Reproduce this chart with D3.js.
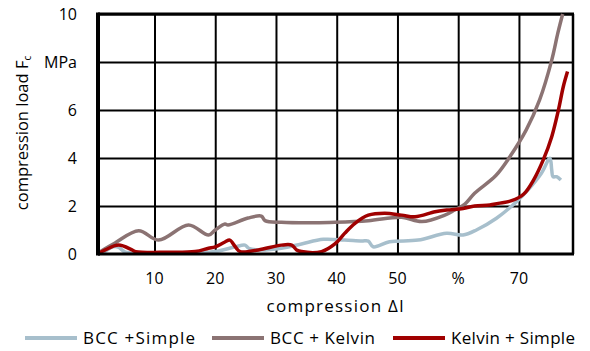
<!DOCTYPE html>
<html>
<head>
<meta charset="utf-8">
<script src="https://cdn.jsdelivr.net/npm/d3@7"></script>
<style>
  body { margin: 0; background: #fff; }
  svg { display: block; font-family: "Open Sans", "Liberation Sans", sans-serif; }
</style>
</head>
<body>
<svg id="chart" width="590" height="351"></svg>
<script>
// compression [%], load [MPa]
var bccSimple = [
  [0.7, 0], [1.9, 0.12], [3.0, 0.29], [4.0, 0.29], [5.2, 0.08], [7.6, 0.04],
  [12, 0.04], [17, 0.05], [20.0, 0.1], [23.3, 0.3], [24.9, 0.37], [25.5, 0.24],
  [27.1, 0.17], [30.9, 0.24], [34.2, 0.42], [37.8, 0.61], [41.3, 0.58],
  [44.1, 0.54], [45.2, 0.54], [46.0, 0.3], [48.7, 0.51], [53.4, 0.58],
  [58.1, 0.86], [60.8, 0.79], [63.0, 1.0], [66.3, 1.49], [69.6, 2.18],
  [71.5, 2.67], [73.7, 3.36], [75.1, 3.99], [75.4, 3.5], [75.6, 3.22],
  [76.2, 3.22], [76.9, 3.08]
];

var bccKelvin = [
  [0.7, 0], [1.1, 0.1], [3.5, 0.46], [7.4, 0.97], [10.7, 0.58], [15.6, 1.21],
  [18.9, 0.79], [20.0, 1.0], [21.6, 1.25], [22.1, 1.21], [25.4, 1.5],
  [27.6, 1.58], [28.2, 1.39], [30.9, 1.32], [36.4, 1.3], [39.7, 1.32],
  [45.2, 1.39], [50.7, 1.53], [54.0, 1.35], [57.8, 1.62], [59.4, 1.83],
  [61.1, 2.08], [62.7, 2.53], [66.2, 3.27], [68.5, 4.05], [71.2, 5.17],
  [73.4, 6.42], [75.4, 8.08], [76.4, 9.2], [77.2, 10.0]
];

var kelvinSimple = [
  [0.7, 0], [1.9, 0.17], [4.1, 0.37], [6.3, 0.17], [6.9, 0.1], [12, 0.07],
  [16.7, 0.1], [18.9, 0.24], [20.0, 0.3], [21.6, 0.5], [22.4, 0.58],
  [23.3, 0.3], [24.1, 0.1], [27.1, 0.17], [30.9, 0.37], [32.6, 0.37],
  [33.4, 0.17], [34.2, 0.1], [37.5, 0.1], [39.7, 0.42], [41.3, 0.86],
  [43.0, 1.28], [45.2, 1.62], [47.9, 1.7], [50.7, 1.62], [52.9, 1.55],
  [56.2, 1.76], [58.1, 1.83], [60.8, 1.9], [62.7, 2.0], [65.2, 2.04],
  [66.6, 2.11], [68.8, 2.22], [70.8, 2.5], [72.4, 3.08], [74.0, 3.92],
  [75.4, 4.89], [76.5, 6.0], [77.3, 6.97], [78.0, 7.6]
];

var seriesNames = ["BCC +Simple", "BCC + Kelvin", "Kelvin + Simple"];
var seriesColors = ["#a7bfcc", "#8b7373", "#a00000"];

var xTicks = [10, 20, 30, 40, 50, 60, 70];
var xTickLabels = ["10", "20", "30", "40", "50", "%", "70"];
var yTicks = [0, 2, 4, 6, 8, 10];
var yTickLabels = ["0", "2", "4", "6", "MPa", "10"];

(function() {
  var svg = d3.select("#chart");
  var pl = 98, pr = 573, pt = 14, pb = 254;

  var x = d3.scaleLinear().domain([0.7, 78.9]).range([pl, pr]);
  var y = d3.scaleLinear().domain([0, 10]).range([pb, pt]);

  // grid
  svg.append("g")
    .attr("transform", "translate(0," + pb + ")")
    .call(d3.axisBottom(x).tickValues(xTicks).tickSize(-(pb - pt)).tickFormat(""))
    .call(function(g) { g.select(".domain").remove(); })
    .selectAll("line").attr("stroke", "#000").attr("stroke-width", 2);

  svg.append("g")
    .attr("transform", "translate(" + pl + ",0)")
    .call(d3.axisLeft(y).tickValues(yTicks.slice(1)).tickSize(-(pr - pl)).tickFormat(""))
    .call(function(g) { g.select(".domain").remove(); })
    .selectAll("line").attr("stroke", "#000").attr("stroke-width", 2);

  // plot border
  svg.append("line").attr("x1", pl).attr("x2", pr + 1).attr("y1", pt).attr("y2", pt)
    .attr("stroke", "#000").attr("stroke-width", 3);
  svg.append("line").attr("x1", pr).attr("x2", pr).attr("y1", pt).attr("y2", pb)
    .attr("stroke", "#000").attr("stroke-width", 2.5);

  // series
  var line = d3.line()
    .x(function(d) { return x(d[0]); })
    .y(function(d) { return y(d[1]); })
    .curve(d3.curveCatmullRom.alpha(0.5));

  [bccSimple, bccKelvin, kelvinSimple].forEach(function(s, i) {
    svg.append("path")
      .datum(s)
      .attr("d", line)
      .attr("fill", "none")
      .attr("stroke", seriesColors[i])
      .attr("stroke-width", 3.5)
      .attr("stroke-linejoin", "round");
  });

  // axes lines
  svg.append("line").attr("x1", pl).attr("x2", pl).attr("y1", pt - 1.5).attr("y2", pb + 1.5)
    .attr("stroke", "#000").attr("stroke-width", 4);
  svg.append("line").attr("x1", pl).attr("x2", pr + 1).attr("y1", pb).attr("y2", pb)
    .attr("stroke", "#000").attr("stroke-width", 3);

  // tick labels
  svg.append("g").selectAll("text")
    .data(xTicks)
    .enter().append("text")
    .attr("x", function(d) { return x(d); })
    .attr("y", 278)
    .attr("dy", "0.35em")
    .attr("text-anchor", "middle")
    .attr("font-size", 16)
    .attr("fill", "#000")
    .text(function(d, i) { return xTickLabels[i]; });

  svg.append("g").selectAll("text")
    .data(yTicks)
    .enter().append("text")
    .attr("x", 77)
    .attr("y", function(d) { return y(d); })
    .attr("dy", "0.35em")
    .attr("text-anchor", "end")
    .attr("font-size", 16)
    .attr("fill", "#000")
    .text(function(d, i) { return yTickLabels[i]; });

  // axis titles
  svg.append("text")
    .attr("x", 335)
    .attr("y", 306)
    .attr("dy", "0.35em")
    .attr("text-anchor", "middle")
    .attr("font-size", 17)
    .attr("textLength", 137)
    .attr("lengthAdjust", "spacing")
    .text("compression \u0394l");

  var yt = svg.append("text")
    .attr("transform", "translate(28,133) rotate(-90)")
    .attr("text-anchor", "middle")
    .attr("font-size", 16.5);
  yt.append("tspan").text("compression load F");
  yt.append("tspan").attr("font-size", 10).attr("dy", 3).text("c");

  // legend
  var legendX = [25, 212, 393];
  var legendW = [112, 105, 124];
  var lg = svg.append("g");
  seriesNames.forEach(function(name, i) {
    lg.append("line")
      .attr("x1", legendX[i]).attr("x2", legendX[i] + 52)
      .attr("y1", 338).attr("y2", 338)
      .attr("stroke", seriesColors[i]).attr("stroke-width", 4);
    lg.append("text")
      .attr("x", legendX[i] + 58)
      .attr("y", 338)
      .attr("dy", "0.35em")
      .attr("font-size", 17)
      .attr("textLength", legendW[i])
      .attr("lengthAdjust", "spacing")
      .text(name);
  });
})();
</script>
</body>
</html>
